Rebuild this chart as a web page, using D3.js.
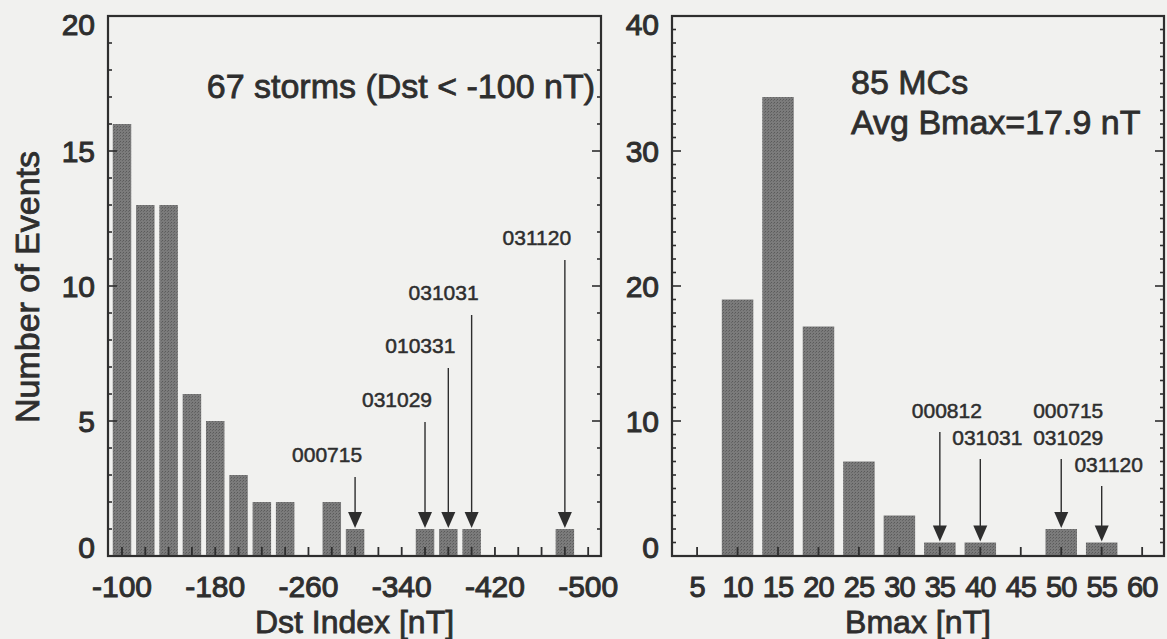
<!DOCTYPE html>
<html>
<head>
<meta charset="utf-8">
<script src="https://cdn.jsdelivr.net/npm/d3@7"></script>
<style>
  body { margin: 0; background: #f1f1ef; }
  svg text { font-family: "Liberation Sans", Arial, sans-serif; fill: #2e2e2e; }
  .lbl { stroke: #2e2e2e; stroke-width: 0.8px; }
</style>
</head>
<body>
<div class="chart"></div>
<script>
// left panel: Dst histogram
const dstBins = [-100,-120,-140,-160,-180,-200,-220,-240,-260,-280,-300,-320,-340,-360,-380,-400,-420,-440,-460,-480,-500];
const dstCounts = [16,13,13,6,5,3,2,2,0,2,1,0,0,1,1,1,0,0,0,1,0];
const dstTicks = [-100,-180,-260,-340,-420,-500];
const dstEvents = ["000715","031029","010331","031031","031120"];
const dstEventBins = [-300,-360,-380,-400,-480];

// right panel: Bmax histogram
const bmaxBins = [5,10,15,20,25,30,35,40,45,50,55,60];
const bmaxCounts = [0,19,34,17,7,3,1,1,0,2,1,0];
const bmaxTicks = [5,10,15,20,25,30,35,40,45,50,55,60];
const bmaxEvents = [["000812"],["031031"],["000715","031029"],["031120"]];
const bmaxEventBins = [35,40,50,55];

const W = 1167, H = 639;
const plotTop = 16, plotBottom = 556;

var svg = d3.select(".chart").append("svg")
    .attr("width", W)
    .attr("height", H);

svg.append("rect").attr("width", W).attr("height", H).attr("fill", "#f1f1ef");

// halftone look for the bars
var pat = svg.append("defs").append("pattern")
    .attr("id", "tone").attr("width", 3).attr("height", 3)
    .attr("patternUnits", "userSpaceOnUse");
pat.append("rect").attr("width", 3).attr("height", 3).attr("fill", "#7b7b7b");
pat.append("rect").attr("width", 1).attr("height", 1).attr("fill", "#5a5a5a");
pat.append("rect").attr("x", 2).attr("y", 1).attr("width", 1).attr("height", 1).attr("fill", "#666");

function panel(opt) {
    const x = d3.scaleLinear().domain(opt.xDomain).range([opt.left, opt.right]);
    const y = d3.scaleLinear().domain([0, opt.yMax]).range([plotBottom, plotTop]);
    const g = svg.append("g");

    // bars
    g.selectAll(".bar")
        .data(opt.bins.map((b, i) => ({b: b, c: opt.counts[i]})).filter(d => d.c > 0))
        .enter().append("rect")
        .attr("class", "bar")
        .attr("x", d => x(d.b) - opt.barW / 2)
        .attr("y", d => y(d.c))
        .attr("width", opt.barW)
        .attr("height", d => y(0) - y(d.c))
        .attr("fill", "url(#tone)");

    // y ticks, inward on both sides
    const minor = d3.range(0, opt.yMax + 1, 1);
    minor.forEach(v => {
        const len = v % opt.yMajor == 0 ? 9 : 4;
        g.append("line").attr("x1", opt.left).attr("x2", opt.left + len)
            .attr("y1", y(v)).attr("y2", y(v)).attr("stroke", "#2e2e2e").attr("stroke-width", 1.6);
        g.append("line").attr("x1", opt.right).attr("x2", opt.right - len)
            .attr("y1", y(v)).attr("y2", y(v)).attr("stroke", "#2e2e2e").attr("stroke-width", 1.6);
    });

    // x ticks, inward
    opt.bins.forEach(b => {
        g.append("line").attr("x1", x(b)).attr("x2", x(b))
            .attr("y1", plotBottom).attr("y2", plotBottom - 9).attr("stroke", "#2e2e2e").attr("stroke-width", 1.8);
    });

    // frame
    g.append("rect").attr("x", opt.left).attr("y", plotTop)
        .attr("width", opt.right - opt.left).attr("height", plotBottom - plotTop)
        .attr("fill", "none").attr("stroke", "#2e2e2e").attr("stroke-width", 2.2);

    // y tick labels
    const majors = d3.range(0, opt.yMax + 1, opt.yMajor);
    g.selectAll(".ylab").data(majors).enter().append("text")
        .attr("class", "lbl")
        .attr("x", opt.left - 13)
        .attr("y", d => y(d) + 11 + (d == 0 ? -9 : d == opt.yMax ? 8 : 0))
        .attr("text-anchor", "end")
        .attr("font-size", 30)
        .style("stroke-width", "1px")
        .text(d => d);

    // x tick labels
    g.selectAll(".xlab").data(opt.ticks).enter().append("text")
        .attr("class", "lbl")
        .attr("x", d => x(d))
        .attr("y", 597)
        .attr("text-anchor", "middle")
        .attr("font-size", opt.xFont)
        .attr("letter-spacing", opt.xSpace)
        .style("stroke-width", "1px")
        .text(d => d);

    // x title
    g.append("text").attr("class", "lbl")
        .attr("x", (opt.left + opt.right) / 2).attr("y", 633)
        .attr("text-anchor", "middle").attr("font-size", 32)
        .text(opt.xTitle);

    return {x: x, y: y, g: g};
}

const L = panel({left: 108, right: 601, xDomain: [-88, -511], yMax: 20, yMajor: 5,
    bins: dstBins, counts: dstCounts, ticks: dstTicks, barW: 18.5,
    xFont: 30, xSpace: 0, xTitle: "Dst Index [nT]"});
const R = panel({left: 672, right: 1164, xDomain: [1.9, 62.7], yMax: 40, yMajor: 10,
    bins: bmaxBins, counts: bmaxCounts, ticks: bmaxTicks, barW: 31.5,
    xFont: 29, xSpace: -1, xTitle: "Bmax [nT]"});

function arrow(p, xv, count, lineTop) {
    const ax = p.x(xv), tip = p.y(count) - 1;
    p.g.append("line").attr("x1", ax).attr("x2", ax)
        .attr("y1", lineTop).attr("y2", tip - 12)
        .attr("stroke", "#2e2e2e").attr("stroke-width", 1.4);
    p.g.append("path")
        .attr("d", `M${ax - 7},${tip - 16}L${ax + 7},${tip - 16}L${ax},${tip}Z`)
        .attr("fill", "#2e2e2e");
}

// left annotations
const dstLabelY = [462, 407, 353, 300, 245];
dstEvents.forEach((e, i) => {
    const b = dstEventBins[i];
    const c = dstCounts[dstBins.indexOf(b)];
    L.g.append("text").attr("class", "lbl")
        .attr("x", L.x(b) - 28).attr("y", dstLabelY[i])
        .attr("text-anchor", "middle").attr("font-size", 21)
        .style("stroke-width", "0.5px")
        .text(e);
    arrow(L, b, c, dstLabelY[i] + 15);
});

// right annotations
const bmaxLabelY = [418, 445, 445, 472];
bmaxEvents.forEach((e, i) => {
    const b = bmaxEventBins[i];
    const c = bmaxCounts[bmaxBins.indexOf(b)];
    e.forEach((s, j) => {
        R.g.append("text").attr("class", "lbl")
            .attr("x", R.x(b) + 7).attr("y", bmaxLabelY[i] - (e.length - 1 - j) * 27)
            .attr("text-anchor", "middle").attr("font-size", 21)
            .style("stroke-width", "0.5px")
            .text(s);
    });
    arrow(R, b, c, bmaxLabelY[i] + 14);
});

// panel notes
L.g.append("text").attr("class", "lbl")
    .attr("x", 595).attr("y", 98).attr("text-anchor", "end").attr("font-size", 34)
    .text("67 storms (Dst < -100 nT)");
R.g.append("text").attr("class", "lbl")
    .attr("x", 851).attr("y", 94).attr("font-size", 34)
    .text("85 MCs");
R.g.append("text").attr("class", "lbl")
    .attr("x", 851).attr("y", 134).attr("font-size", 34)
    .text("Avg Bmax=17.9 nT");

// y title
svg.append("text").attr("class", "lbl")
    .attr("transform", "translate(39,287) rotate(-90)")
    .attr("text-anchor", "middle").attr("font-size", 34)
    .text("Number of Events");
</script>
</body>
</html>
